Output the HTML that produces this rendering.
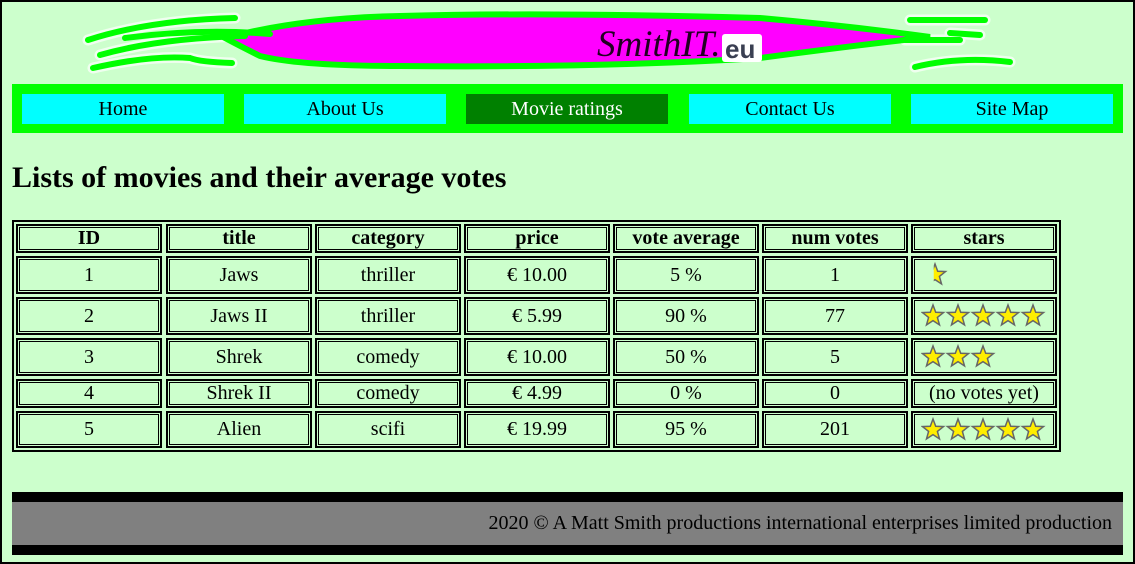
<!DOCTYPE html>
<html><head><meta charset="utf-8">
<style>
html,body{margin:0;padding:0}
body{width:1135px;height:564px;background:#ccffcc;position:relative;overflow:hidden;font-family:"Liberation Serif",serif;}
#frame{position:absolute;left:0;top:0;width:1131px;height:560px;border:2px solid #000;}
.abs{position:absolute}
.nav{position:absolute;top:94px;height:30px;width:202px;background:#00ffff;color:#000;font-size:20px;line-height:30px;text-align:center}
.cell{position:absolute;border:2px solid #000;box-shadow:inset 0 0 0 1px #ccffcc,inset 0 0 0 2px #000;box-sizing:border-box;text-align:center;font-size:20px;display:flex;align-items:center;justify-content:center}
.hd{font-weight:bold}
</style></head>
<body>
<div id="frame"></div>
<svg class="abs" style="left:0;top:0" width="1135" height="84">
 <g fill="none" stroke-linecap="round">
  <g stroke="#ffffff" stroke-width="11" opacity="0.7">
   <path d="M88 40 Q150 20 235 18"/><path d="M100 55 Q160 38 245 36"/><path d="M93 68 Q150 55 190 58 Q200 62 232 63"/>
   <path d="M910 20 L985 20"/><path d="M905 40 L960 40"/><path d="M950 33 L980 35"/><path d="M915 67 Q960 56 1010 62"/>
  </g>
  <path d="M225 38 Q300 18 400 16 Q550 12 760 18 Q850 26 930 37 Q850 46 760 58 Q600 68 400 66 Q300 66 260 56 Q240 46 225 38 Z" fill="#ff00ff" stroke="#00ff00" stroke-width="6"/>
  <g stroke="#00ff00" stroke-width="6">
   <path d="M88 40 Q150 20 235 18"/><path d="M100 55 Q160 38 245 36"/><path d="M125 38 Q200 28 270 34"/><path d="M93 68 Q150 55 190 58 Q200 62 232 63"/>
   <path d="M910 20 L985 20"/><path d="M905 40 L960 40"/><path d="M950 33 L980 35"/><path d="M915 67 Q960 56 1010 62"/>
  </g>
 </g>
 <text x="597" y="56" font-family="Liberation Serif,serif" font-style="italic" font-size="37" fill="#220022">SmithIT.</text>
 <rect x="722" y="34" width="40" height="28" fill="#ffffff" rx="3"/>
 <text x="725" y="58" font-family="Liberation Sans,sans-serif" font-weight="bold" font-size="26" fill="#3a3f52">eu</text>
</svg>
<div class="abs" style="left:12px;top:84px;width:1111px;height:49px;background:#00ff00"></div>
<div class="nav" style="left:22px">Home</div>
<div class="nav" style="left:244px">About Us</div>
<div class="nav" style="left:466px;background:#008000;color:#fff">Movie ratings</div>
<div class="nav" style="left:689px">Contact Us</div>
<div class="nav" style="left:911px">Site Map</div>
<div class="abs" style="left:12px;top:160px;font-size:30px;font-weight:bold;line-height:36px">Lists of movies and their average votes</div>
<div class="abs" style="left:12px;top:220px;width:1049px;height:232px;border:2px solid #000;box-sizing:border-box"></div>
<div id="cells"></div>
<div class="abs" style="left:12px;top:492px;width:1111px;height:63px;background:#000"></div>
<div class="abs" style="left:12px;top:502px;width:1111px;height:43px;background:#808080;font-size:20px;line-height:43px;text-align:right;box-sizing:border-box;padding-right:11px">2020 © A Matt Smith productions international enterprises limited production</div>
<script>
const headers=["ID","title","category","price","vote average","num votes","stars"];
const ids=["1","2","3","4","5"];
const titles=["Jaws","Jaws II","Shrek","Shrek II","Alien"];
const categories=["thriller","thriller","comedy","comedy","scifi"];
const prices=["€ 10.00","€ 5.99","€ 10.00","€ 4.99","€ 19.99"];
const voteAvg=[5,90,50,0,95];
const numVotes=[1,77,5,0,201];
const colX=[16,166,315,464,613,762,911];
const colW=146;
const rowY=[224,256,297,338,379,411];
const rowH=[29,38,38,38,29,37];
const root=document.getElementById('cells');
function starPts(cx,cy){const pts=[];for(let k=0;k<10;k++){const r=k%2?4.6:11,a=-Math.PI/2+k*Math.PI/5;pts.push((cx+r*Math.cos(a)).toFixed(1)+','+(cy+r*Math.sin(a)).toFixed(1));}return pts.join(' ');}
function starSvg(avg){
  let n=Math.round(avg/20);
  let half=false;
  if(n<1){half=true;n=1;}
  let s='<svg width="135" height="26" style="position:absolute;left:8px;top:50%;margin-top:-13px">';
  for(let i=0;i<n;i++){
    const cx=12+i*25;
    if(half){
      s+=`<polygon points="${starPts(cx+2,13)}" fill="#ffee00" stroke="#666" stroke-width="1.5" style="clip-path:inset(0 0 0 45%)"/>`;
    } else {
      s+=`<polygon points="${starPts(cx,13)}" fill="#ffee00" stroke="#666" stroke-width="1.5"/>`;
    }
  }
  return s+'</svg>';
}
function mk(r,c,html,cls){
  const d=document.createElement('div');
  d.className='cell'+(cls?' '+cls:'');
  d.style.left=colX[c]+'px';d.style.top=rowY[r]+'px';d.style.width=colW+'px';d.style.height=rowH[r]+'px';
  d.innerHTML=html;
  
  
  root.appendChild(d);
}
headers.forEach((h,c)=>mk(0,c,h,'hd'));
for(let i=0;i<ids.length;i++){
  const r=i+1;
  mk(r,0,ids[i]);mk(r,1,titles[i]);mk(r,2,categories[i]);mk(r,3,prices[i]);
  mk(r,4,voteAvg[i]+' %');mk(r,5,String(numVotes[i]));
  mk(r,6,numVotes[i]===0?'(no votes yet)':starSvg(voteAvg[i]));
}
</script>
</body></html>
